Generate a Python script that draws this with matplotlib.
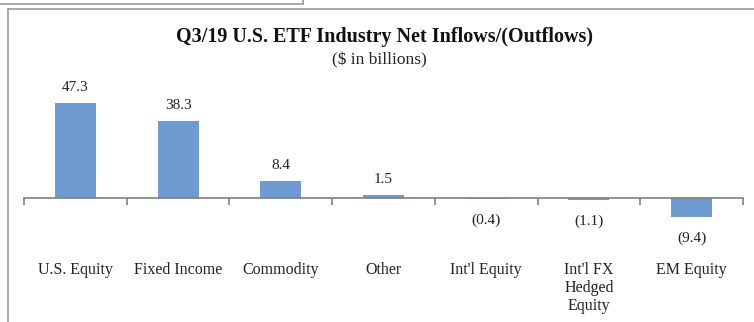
import matplotlib
matplotlib.use("Agg")
import matplotlib.pyplot as plt
from matplotlib.lines import Line2D

plt.rcParams["font.family"] = ["Liberation Serif", "DejaVu Serif"]

categories = ["U.S. Equity", "Fixed Income", "Commodity", "Other",
              "Int'l Equity", "Int'l FX\nHedged\nEquity", "EM Equity"]
flows = [47.3, 38.3, 8.4, 1.5, -0.4, -1.1, -9.4]

W, H = 754, 322
fig = plt.figure(figsize=(W / 100, H / 100), dpi=100)
fig.patch.set_facecolor("white")

# outer frames (pixel coords -> figure fraction)
def px(x, y):
    return x / W, 1 - y / H

frame_color = "#9a9a9a"
x0, y0 = px(8, 9)
x1, y1 = px(754, 322)
fig.add_artist(Line2D([x0, x1], [y0, y0], color=frame_color, lw=1.2))
fig.add_artist(Line2D([x0, x0], [y0, y1], color=frame_color, lw=1.2))
a, b = px(0, 4)
c, d = px(303, 0)
fig.add_artist(Line2D([a, c], [b, b], color=frame_color, lw=1.2))
fig.add_artist(Line2D([c, c], [b, d], color=frame_color, lw=1.2))

# axes placed so that zero sits at y=198 px
ymin, ymax = -20, 60
scale = 2.01
top_px = 198 - ymax * scale
bot_px = 198 - ymin * scale
ax = fig.add_axes([24 / W, 1 - bot_px / H, (743 - 24) / W, (bot_px - top_px) / H])
ax.set_xlim(-0.5, len(categories) - 0.5)
ax.set_ylim(ymin, ymax)

bar_color = "#6f9bd3"
x = list(range(len(categories)))
ax.bar(x, flows, width=0.4, color=bar_color, zorder=2)

for xi, v in zip(x, flows):
    if v >= 0:
        txt, off = f"{v:.1f}", 11
    else:
        txt, off = f"({abs(v):.1f})", -15.5
    ax.annotate(txt, (xi, v), xytext=(0, off), textcoords="offset points",
                ha="center", va="center", fontsize=11, color="#222222")

for s in ["top", "right", "left"]:
    ax.spines[s].set_visible(False)
ax.spines["bottom"].set_position(("data", 0))
ax.spines["bottom"].set_color("#7f7f7f")
ax.spines["bottom"].set_linewidth(1.2)
ax.set_yticks([])
ax.set_xticks([i - 0.5 for i in range(len(categories) + 1)])
ax.set_xticklabels([])
ax.tick_params(axis="x", direction="out", length=5, width=1.2, color="#7f7f7f")

label_y = (bot_px - 262) / (bot_px - top_px)
for xi, name in zip(x, categories):
    ax.text(xi, label_y, name, transform=ax.get_xaxis_transform(),
            ha="center", va="top", fontsize=11.5, color="#222222",
            linespacing=1.15)

fig.text(384 / W, 1 - 37 / H, "Q3/19 U.S. ETF Industry Net Inflows/(Outflows)",
         ha="center", va="center", fontsize=14.5, fontweight="bold", color="#111111")
fig.text(379 / W, 1 - 60 / H, "($ in billions)",
         ha="center", va="center", fontsize=12.5, color="#222222")

fig.savefig("out.png", dpi=100, facecolor="white")
